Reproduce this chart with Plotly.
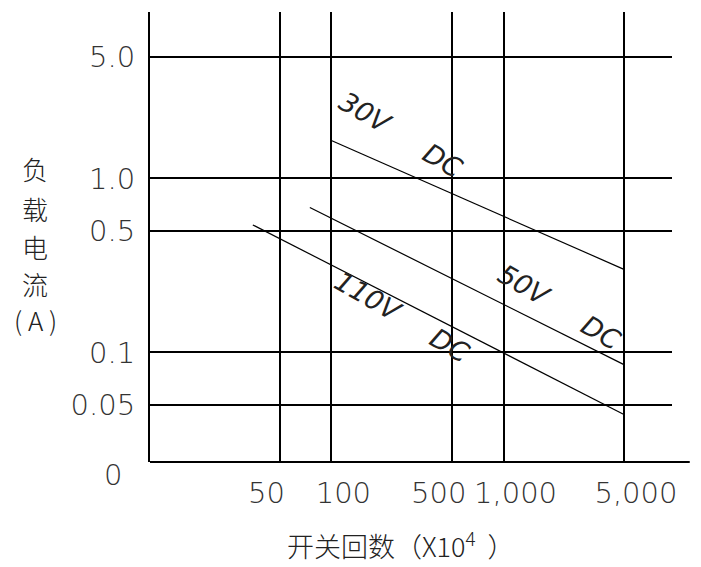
import plotly.graph_objects as go

# === Data ===
cycles_30v = [100, 5000]
current_30v = [1.65, 0.30]

cycles_50v = [75, 5000]
current_50v = [0.68, 0.085]

cycles_110v = [35, 5000]
current_110v = [0.54, 0.044]

# the original prints its x labels a bit off the grid lines, some left, some right,
# so the ticks are split over two overlaid axes with opposite label shifts
x_ticks_left = [50, 500]
x_tick_text_left = ["50", "500"]
x_ticks_right = [100, 1000, 5000]
x_tick_text_right = ["100", "1,000", "5,000"]

y_ticks = [5.0, 1.0, 0.5, 0.1, 0.05]
y_tick_text = ["5.0", "1.0", "0.5", "0.1", "0.05"]

y_title_chars = ["负", "载", "电", "流", "( A )"]

line_style = dict(color="black", width=1.2)
label_font = dict(family="DejaVu Sans", size=27, color="#222", style="italic", weight=300)
tick_font = dict(family="DejaVu Sans", size=29, color="#333", weight=300)
cjk_font = dict(family="Noto Sans CJK SC", size=26, color="#222", weight=300)

fig = go.Figure()
fig.add_trace(go.Scatter(x=cycles_30v, y=current_30v, mode="lines", line=line_style,
                         xaxis="x2", showlegend=False))
fig.add_trace(go.Scatter(x=cycles_50v, y=current_50v, mode="lines", line=line_style, showlegend=False))
fig.add_trace(go.Scatter(x=cycles_110v, y=current_110v, mode="lines", line=line_style, showlegend=False))

# === Curve labels ===
labels = [
    ("30V", 0.412, 0.776), ("DC", 0.561, 0.671),
    ("50V", 0.718, 0.393), ("DC", 0.864, 0.287),
    ("110V", 0.418, 0.367), ("DC", 0.575, 0.260),
]
for text, px, py in labels:
    fig.add_annotation(text=text, x=px, y=py, xref="paper", yref="paper",
                       xanchor="center", yanchor="middle",
                       showarrow=False, textangle=30, font=label_font)

# vertical y title, one character per row
for ch, py in zip(y_title_chars, [0.653, 0.564, 0.480, 0.396, 0.316]):
    fig.add_annotation(text=ch, x=-0.22, y=py, xref="paper", yref="paper",
                       xanchor="center", yanchor="middle", showarrow=False, font=cjk_font)

fig.add_annotation(text="开关回数（X10<sup>4</sup>\u00a0\u00a0）", x=0.48, y=-0.183,
                   xref="paper", yref="paper", xanchor="center", yanchor="middle",
                   showarrow=False, font=dict(cjk_font, size=27))
fig.add_annotation(text="0", x=-0.071, y=-0.029, xref="paper", yref="paper",
                   xanchor="center", yanchor="middle", showarrow=False, font=tick_font)

# bottom axis runs a bit past the grid
fig.add_shape(type="line", xref="paper", yref="paper", x0=0, x1=1.034, y0=0, y1=0,
              line=dict(color="black", width=2))

x_common = dict(type="log", range=[0.947, 3.978], showgrid=True, gridcolor="black", gridwidth=2,
                zeroline=False, showline=False, ticks="", tickangle=0, tickfont=tick_font,
                ticklabelstandoff=11)
fig.update_layout(
    xaxis=dict(x_common, tickvals=x_ticks_left, ticktext=x_tick_text_left, ticklabelshift=-13),
    xaxis2=dict(x_common, tickvals=x_ticks_right, ticktext=x_tick_text_right, ticklabelshift=12,
                overlaying="x", anchor="y", side="bottom"),
)
fig.update_yaxes(type="log", range=[-1.630, 0.956], tickvals=y_ticks, ticktext=y_tick_text,
                 showgrid=True, gridcolor="black", gridwidth=2, zeroline=False,
                 showline=True, linecolor="black", linewidth=2, ticks="",
                 tickfont=tick_font, ticklabelstandoff=7)

# page body adds 8px, so margins are shifted to keep the plot where the original has it
fig.update_layout(width=701, height=567, margin=dict(l=142, r=37, t=4, b=113),
                  plot_bgcolor="white", paper_bgcolor="white")

fig.write_html("out.html")
